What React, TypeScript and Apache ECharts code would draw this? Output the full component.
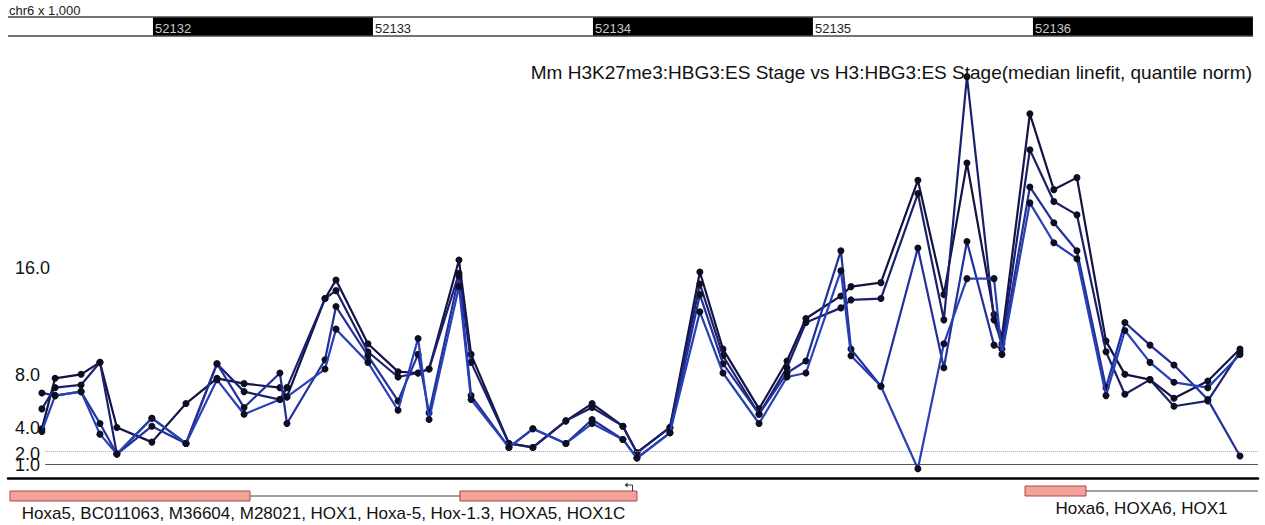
import React, { useEffect, useRef } from "react";
import * as echarts from "echarts";

const FONT = "'Liberation Sans', Arial, sans-serif";

const rulerCaption = "chr6 x 1,000";
const titleText =
  "Mm H3K27me3:HBG3:ES Stage vs H3:HBG3:ES Stage(median linefit, quantile norm)";
const xMin = 52131341;
const xMax = 52137023;
const rulerKb = [52131, 52132, 52133, 52134, 52135, 52136];
const yTickValuesUpper = [2, 4, 8, 16];
const yTickValuesLower = [1];
const thresholdStart = 52131510;

const probePositions = [
  52131495, 52131555, 52131673, 52131759, 52131836, 52131995, 52132150, 52132291,
  52132414, 52132577, 52132609, 52132782, 52132832, 52132977, 52133114, 52133205,
  52133255, 52133391, 52133446, 52133618, 52133727, 52133877, 52133996, 52134136,
  52134200, 52134350, 52134486, 52134591, 52134755, 52134882, 52134968, 52135127,
  52135173, 52135309, 52135477, 52135595, 52135700, 52135823, 52135859, 52135986,
  52136095, 52136200, 52136332, 52136418, 52136532, 52136641, 52136795, 52136941,
];

const seriesNames = ["Rep 1", "Rep 2", "Rep 3", "Rep 4"];
const rep1 = [
  3.7, 7.5, 7.8, 8.7, 3.8, 2.7, 5.6, 7.5, 7.1, 6.8, 6.1, 13.5, 14.9, 10.1, 8.0, 7.9,
  8.2, 16.4, 9.3, 2.6, 2.3, 4.3, 5.6, 3.9, 1.9, 3.8, 15.5, 9.7, 5.2, 8.8, 12.0, 13.7,
  14.4, 14.7, 22.4, 13.8, 23.7, 12.3, 10.6, 27.4, 21.7, 22.6, 10.3, 7.8, 7.4, 6.0, 7.3, 9.7,
];
const rep2 = [
  5.2, 6.8, 7.0, 8.7, 1.8, 4.5, 2.6, 8.6, 6.5, 5.9, 6.8, 13.5, 14.1, 9.5, 7.6, 7.9,
  8.2, 15.4, 8.7, 2.6, 2.3, 4.3, 5.3, 3.9, 1.9, 3.8, 14.6, 9.2, 4.8, 8.3, 11.7, 12.8,
  13.4, 13.5, 21.4, 11.9, 30.2, 11.9, 10.1, 24.7, 20.8, 19.8, 9.5, 6.3, 7.4, 5.4, 5.8, 9.5,
];
const rep3 = [
  6.4, 6.2, 6.5, 4.1, 1.8, 3.9, 2.6, 8.6, 5.3, 7.9, 4.1, 8.9, 12.9, 9.2, 5.8, 9.3,
  4.9, 15.2, 6.2, 2.3, 3.7, 2.6, 4.4, 2.9, 1.5, 3.4, 13.8, 8.6, 4.8, 7.9, 8.8, 17.1,
  9.7, 6.9, 17.3, 8.3, 17.8, 10.0, 9.7, 21.9, 19.2, 17.1, 6.8, 11.7, 10.0, 8.5, 5.9, 1.65,
];
const rep4 = [
  3.5, 6.2, 6.5, 3.3, 1.8, 4.5, 2.6, 7.4, 4.8, 5.9, 6.1, 8.2, 11.2, 8.7, 5.1, 10.5,
  4.4, 14.4, 5.9, 2.3, 3.7, 2.6, 4.1, 2.9, 1.5, 3.4, 12.5, 7.9, 4.1, 7.6, 7.9, 15.6,
  9.2, 6.9, 0.7, 10.1, 15.0, 15.0, 9.3, 20.7, 17.7, 16.5, 6.2, 11.1, 8.7, 7.2, 6.8, 9.3,
];

const geneLabels = [
  "Hoxa5, BC011063, M36604, M28021, HOX1, Hoxa-5, Hox-1.3, HOXA5, HOX1C",
  "Hoxa6, HOXA6, HOX1",
];
const geneSpans = [
  [52131350, 52134200],
  [52135964, 52137023],
];
const geneExons = [
  [
    [52131350, 52132441],
    [52133395, 52134200],
  ],
  [[52135964, 52136241]],
];
const geneTss = [52134180, null];

const lineColors = ["#131345", "#1b206c", "#22309a", "#2840b6"];
const geneRowY = [496, 491];

function makeYAxis(values: number[], shiftDown: boolean) {
  return {
    type: "value",
    min: 0,
    max: 31,
    position: "left",
    axisLine: { show: false },
    axisTick: { show: false },
    splitLine: { show: false },
    axisLabel: {
      inside: true,
      margin: 7,
      customValues: values,
      hideOverlap: false,
      formatter: (v: number) => v.toFixed(1),
      color: "#111",
      fontSize: 18,
      fontFamily: FONT,
      ...(shiftDown ? { verticalAlign: "top", lineHeight: 6 } : { verticalAlign: "middle" }),
    },
  };
}

export default function App() {
  const ref = useRef<HTMLDivElement>(null);
  useEffect(() => {
    document.body.style.margin = "0";
    if (!ref.current) return;
    const chart = echarts.init(ref.current, null, { renderer: "svg" });
    const reps = [rep1, rep2, rep3, rep4];

    const lineSeries = reps.map((vals, si) => ({
      type: "line",
      name: seriesNames[si],
      yAxisIndex: 0,
      data: probePositions.map((p, i) => [p, vals[i]]),
      symbol: "circle",
      symbolSize: 7,
      showSymbol: true,
      itemStyle: { color: "#0e0e22" },
      lineStyle: { color: lineColors[si], width: 2.2 },
      z: 3 + si,
      ...(si === 0
        ? {
            markLine: {
              silent: true,
              symbol: "none",
              label: { show: false },
              data: [
                [
                  { coord: [thresholdStart, 1], lineStyle: { color: "#555", width: 1, type: "solid" } },
                  { coord: [xMax, 1] },
                ],
                [
                  { coord: [thresholdStart, 2], lineStyle: { color: "#9a9ab8", width: 1, type: "dotted" } },
                  { coord: [xMax, 2] },
                ],
              ],
            },
          }
        : {}),
    }));

    const rulerSeries = {
      type: "custom",
      coordinateSystem: "cartesian2d",
      clip: false,
      silent: true,
      z: 1,
      data: rulerKb.map((kb) => [Math.max(kb * 1000, xMin), Math.min((kb + 1) * 1000, xMax), 0, kb]),
      encode: { x: [0, 1], y: 2 },
      renderItem: (params: any, api: any) => {
        const x0 = api.coord([api.value(0), 0])[0];
        const x1 = api.coord([api.value(1), 0])[0];
        const kb = api.value(3);
        const dark = kb % 2 === 0;
        const children: any[] = [
          { type: "rect", shape: { x: x0, y: 17, width: x1 - x0, height: 19 }, style: { fill: dark ? "#000" : "#fff" } },
          { type: "line", shape: { x1: x0, y1: 17, x2: x1, y2: 17 }, style: { stroke: "#444", lineWidth: 1.5 } },
          { type: "line", shape: { x1: x0, y1: 36, x2: x1, y2: 36 }, style: { stroke: "#444", lineWidth: 1.5 } },
        ];
        if (kb * 1000 >= xMin) {
          children.push({
            type: "text",
            style: {
              text: String(kb),
              x: x0 + 2,
              y: 35,
              align: "left",
              verticalAlign: "bottom",
              fill: dark ? "#c8c8c8" : "#222",
              fontSize: 13,
              fontFamily: FONT,
            },
          });
        }
        return { type: "group", children };
      },
    };

    const geneSeries = {
      type: "custom",
      coordinateSystem: "cartesian2d",
      clip: false,
      silent: true,
      z: 1,
      data: geneSpans.map((s, i) => [s[0], s[1], 0, i]),
      encode: { x: [0, 1], y: 2 },
      renderItem: (params: any, api: any) => {
        const idx = params.dataIndex;
        const x0 = api.coord([api.value(0), 0])[0];
        const x1 = api.coord([api.value(1), 0])[0];
        const yMid = geneRowY[idx];
        const h = 10;
        const children: any[] = [
          { type: "line", shape: { x1: x0, y1: yMid, x2: x1, y2: yMid }, style: { stroke: "#444", lineWidth: 1 } },
        ];
        geneExons[idx].forEach((ex) => {
          const ex0 = api.coord([ex[0], 0])[0];
          const ex1 = api.coord([ex[1], 0])[0];
          children.push({
            type: "rect",
            shape: { x: ex0, y: yMid - h / 2, width: ex1 - ex0, height: h },
            style: { fill: "#f2a29a", stroke: "#a84a44", lineWidth: 1 },
          });
        });
        const tss = geneTss[idx];
        if (tss != null) {
          const xt = api.coord([tss, 0])[0];
          children.push({
            type: "polyline",
            shape: { points: [[xt, yMid - h / 2], [xt, yMid - 11], [xt - 6, yMid - 11]] },
            style: { stroke: "#333", lineWidth: 1, fill: null },
          });
          children.push({
            type: "polygon",
            shape: { points: [[xt - 8, yMid - 11], [xt - 5, yMid - 13.5], [xt - 5, yMid - 8.5]] },
            style: { fill: "#333" },
          });
        }
        children.push({
          type: "text",
          style: {
            text: geneLabels[idx],
            x: (x0 + x1) / 2,
            y: yMid + 17,
            align: "center",
            verticalAlign: "middle",
            fill: "#111",
            fontSize: 17,
            fontFamily: FONT,
          },
        });
        return { type: "group", children };
      },
    };

    chart.setOption({
      animation: false,
      backgroundColor: "#fff",
      title: {
        text: titleText,
        right: 8,
        top: 58,
        textStyle: { fontSize: 19, fontWeight: "normal", color: "#111", fontFamily: FONT },
      },
      graphic: [
        {
          type: "text",
          left: 9,
          top: 4,
          style: { text: rulerCaption, fontSize: 13, fontFamily: FONT, fill: "#222" },
        },
      ],
      grid: { left: 8, right: 7, top: 66, bottom: 47 },
      xAxis: {
        type: "value",
        min: xMin,
        max: xMax,
        axisLine: { show: true, onZero: false, lineStyle: { color: "#000", width: 2.5 } },
        axisTick: { show: false },
        axisLabel: { show: false },
        splitLine: { show: false },
      },
      yAxis: [makeYAxis(yTickValuesUpper, true), makeYAxis(yTickValuesLower, false)],
      series: [rulerSeries, geneSeries, ...lineSeries],
    });
    return () => chart.dispose();
  }, []);
  return <div ref={ref} style={{ width: 1265, height: 525, background: "#fff" }} />;
}
